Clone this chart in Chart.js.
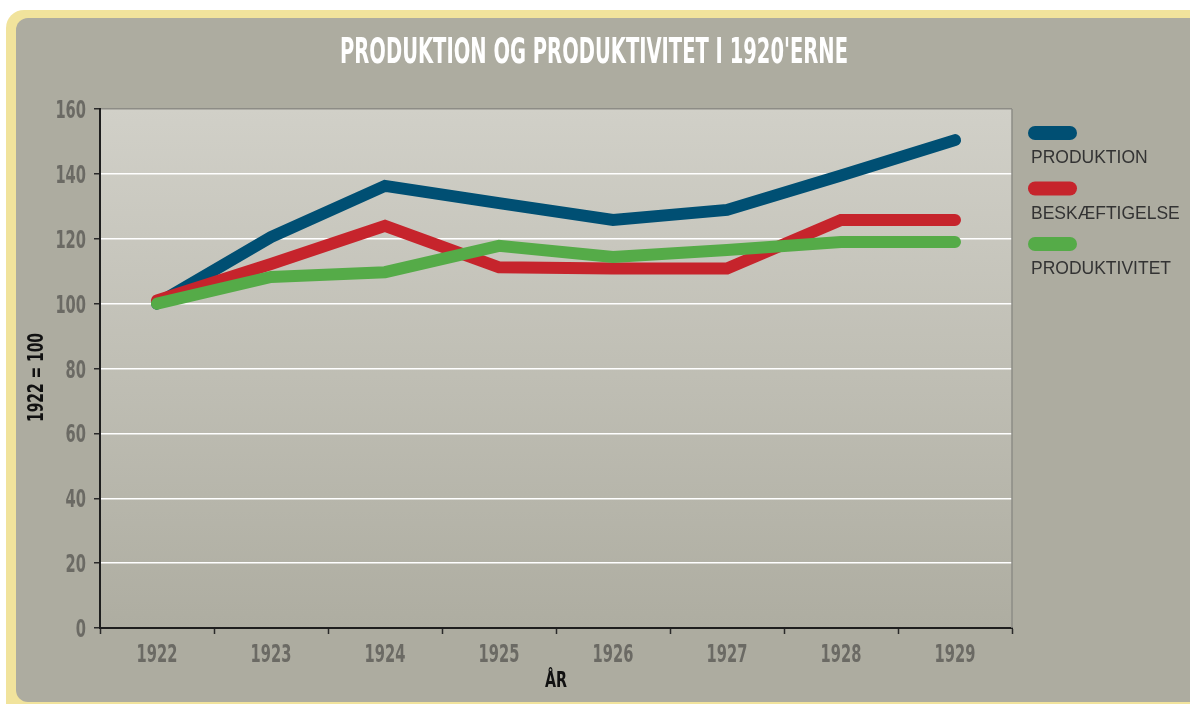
<!DOCTYPE html>
<html>
<head>
<meta charset="utf-8">
<script src="https://cdn.jsdelivr.net/npm/chart.js@4"></script>
<style>
  html, body { margin: 0; padding: 0; background: #fff; overflow: hidden; }
  body { width: 1190px; height: 704px; position: relative; }
  .frame { position: absolute; left: 6px; top: 10px; width: 1214px; height: 714px; background: #f1e39c; border-radius: 18px; }
  .panel { position: absolute; left: 16px; top: 18px; width: 1204px; height: 684px; background: #adaca0; border-radius: 12px; }
  #chart { position: absolute; left: 0; top: 0; }
</style>
</head>
<body>
<div class="frame"></div>
<div class="panel"></div>
<canvas id="chart" width="1190" height="704"></canvas>
<script>
var years = ['1922', '1923', '1924', '1925', '1926', '1927', '1928', '1929'],
	produktion = [100, 120.5, 136.3, 131, 125.8, 128.9, 139.5, 150.4],
	beskaeftigelse = [101, 112.2, 124, 111.2, 110.8, 110.8, 125.8, 125.8],
	produktivitet = [100, 108.2, 109.7, 117.8, 114.4, 116.5, 119, 119],
	seriesNames = ['PRODUKTION', 'BESKÆFTIGELSE', 'PRODUKTIVITET'],
	colors = ['#004f73', '#c6242c', '#55ab48'],
	yTicks = [0, 20, 40, 60, 80, 100, 120, 140, 160],
	title = "PRODUKTION OG PRODUKTIVITET I 1920'ERNE",
	xTitle = 'ÅR',
	yTitle = '1922 = 100';

// no real condensed face here, so squeeze DejaVu Sans Condensed sideways
var narrow = "'DejaVu Sans Condensed', 'DejaVu Sans', sans-serif";

function narrowText(ctx, text, x, y, align, width) {
	let w = ctx.measureText(text).width,
		sx = width / w,
		x0 = align === 'right' ? x - width : (align === 'center' ? x - width / 2 : x);
	ctx.save();
	ctx.textAlign = 'left';
	ctx.translate(x0, y);
	ctx.scale(sx, 1);
	ctx.fillText(text, 0, 0);
	ctx.restore();
}

// plot background + right border
var plotBg = {
	id: 'plotBg',
	beforeDraw: function(chart) {
		const { ctx, chartArea: a } = chart;
		let g = ctx.createLinearGradient(0, a.top, 0, a.bottom);
		g.addColorStop(0, '#d1d0c8');
		g.addColorStop(1, '#aeada1');
		ctx.save();
		ctx.fillStyle = g;
		ctx.fillRect(a.left, a.top, a.right - a.left, a.bottom - a.top);
		ctx.restore();
	},
	afterDatasetsDraw: function(chart) {
		const { ctx, chartArea: a } = chart;
		ctx.save();
		ctx.strokeStyle = '#8d8c86';
		ctx.lineWidth = 1.5;
		ctx.beginPath();
		ctx.moveTo(a.right, a.top);
		ctx.lineTo(a.right, a.bottom);
		ctx.stroke();
		ctx.restore();
	}
};

// title, tick labels, axis titles and the side legend
var decor = {
	id: 'decor',
	afterDraw: function(chart) {
		const ctx = chart.ctx,
			xs = chart.scales.x,
			ys = chart.scales.y;
		ctx.save();
		ctx.textBaseline = 'alphabetic';

		ctx.font = 'bold 36px ' + narrow;
		ctx.fillStyle = '#ffffff';
		narrowText(ctx, title, 594, 63, 'center', 508);

		ctx.font = 'bold 24px ' + narrow;
		ctx.fillStyle = '#6b6a64';
		xs.ticks.forEach(function(t, i) {
			let label = xs.getLabelForValue(t.value);
			narrowText(ctx, label, xs.getPixelForTick(i), 662, 'center', label.length * 10.2);
		});
		ys.ticks.forEach(function(t) {
			let label = String(t.value);
			narrowText(ctx, label, 86, ys.getPixelForValue(t.value) + 9, 'right', label.length * 10.2);
		});

		ctx.fillStyle = '#111111';
		ctx.font = 'bold 21px ' + narrow;
		narrowText(ctx, xTitle, (xs.left + xs.right) / 2, 687, 'center', 22);
		ctx.save();
		ctx.translate(43, 377.5);
		ctx.rotate(-Math.PI / 2);
		ctx.font = 'bold 22px ' + narrow;
		narrowText(ctx, yTitle, 0, 0, 'center', 89);
		ctx.restore();

		chart.data.datasets.forEach(function(ds, i) {
			let y = 126 + i * 55.5;
			ctx.fillStyle = ds.borderColor;
			ctx.beginPath();
			ctx.roundRect(1028, y, 49, 14, 7);
			ctx.fill();
			ctx.fillStyle = '#333333';
			ctx.font = '17.5px "Liberation Sans", Arial, sans-serif';
			ctx.textAlign = 'left';
			ctx.fillText(ds.label, 1031, y + 37);
		});
		ctx.restore();
	}
};

var dataChart = {
	labels: years,
	datasets: [
		{ label: seriesNames[0], data: produktion, borderColor: colors[0], order: 3 },
		{ label: seriesNames[1], data: beskaeftigelse, borderColor: colors[1], order: 2 },
		{ label: seriesNames[2], data: produktivitet, borderColor: colors[2], order: 1 }
	].map(function(ds) {
		ds.borderWidth = 12;
		ds.pointRadius = 0;
		ds.pointHoverRadius = 0;
		ds.tension = 0;
		ds.borderCapStyle = 'round';
		ds.borderJoinStyle = 'miter';
		ds.fill = false;
		return ds;
	})
};

var config = {
	type: 'line',
	data: dataChart,
	plugins: [plotBg, decor],
	options: {
		responsive: false,
		animation: false,
		events: [],
		layout: { padding: { top: 109, right: 178, bottom: 0, left: 0 } },
		plugins: {
			legend: { display: false },
			title: { display: false },
			tooltip: { enabled: false }
		},
		scales: {
			x: {
				offset: true,
				afterFit: function(s) { s.height = 76; },
				grid: { offset: true, drawOnChartArea: false, drawTicks: true, tickLength: 6, tickColor: '#2a2a2a', tickWidth: 1.5 },
				border: { color: '#1e1e1e', width: 2 },
				ticks: { color: 'rgba(0,0,0,0)', font: { size: 12 }, maxRotation: 0, autoSkip: false }
			},
			y: {
				min: 0,
				max: 160,
				afterFit: function(s) { s.width = 100; },
				afterBuildTicks: function(s) { s.ticks = yTicks.map(function(v) { return { value: v }; }); },
				grid: {
					color: function(c) { return c.tick && c.tick.value === 160 ? '#8d8c86' : '#ffffff'; },
					lineWidth: 1.5,
					tickColor: '#2a2a2a',
					tickLength: 6
				},
				border: { color: '#1e1e1e', width: 2 },
				ticks: { color: 'rgba(0,0,0,0)', font: { size: 12 } }
			}
		}
	}
};

new Chart(document.getElementById('chart').getContext('2d'), config);
</script>
</body>
</html>
